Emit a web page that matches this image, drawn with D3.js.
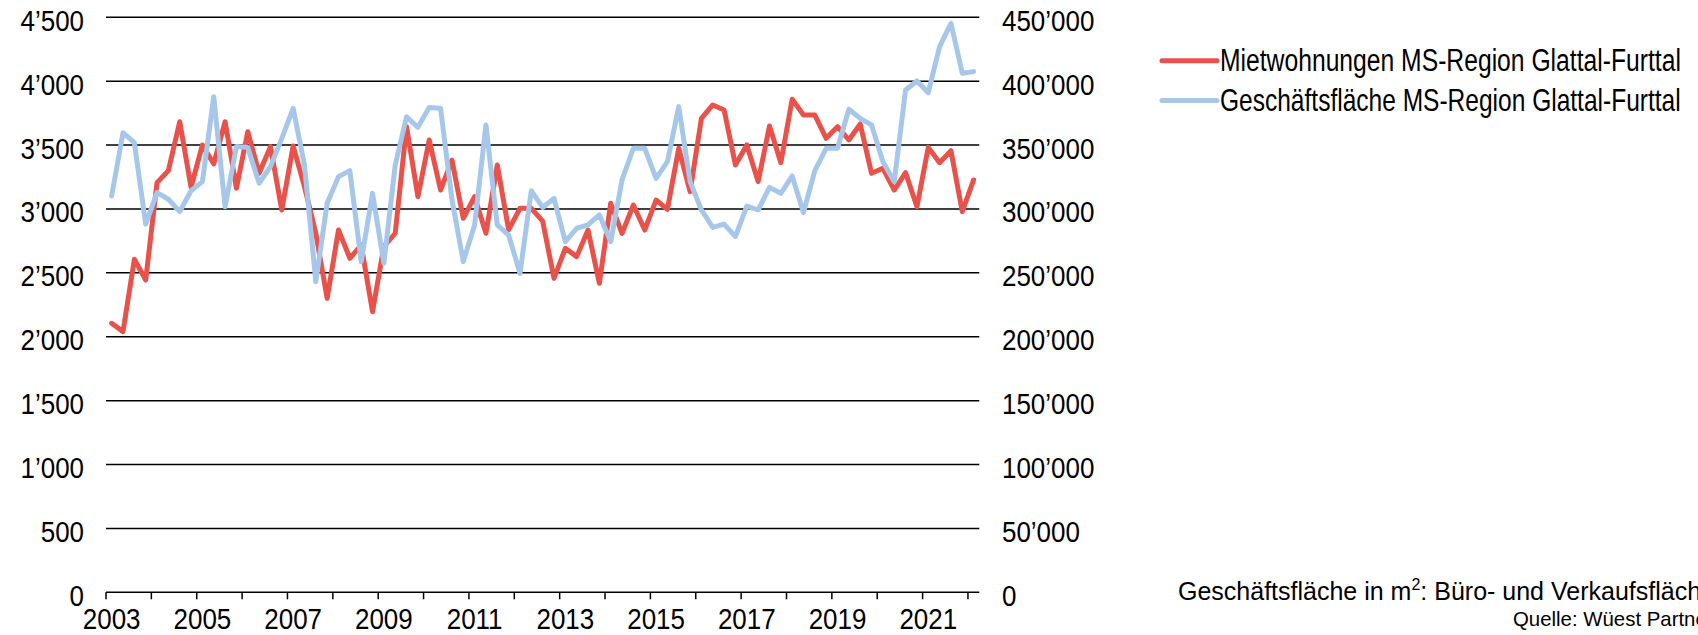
<!DOCTYPE html>
<html>
<head>
<meta charset="utf-8">
<script src="https://cdn.jsdelivr.net/npm/d3@7"></script>
<style>
  html, body { margin: 0; padding: 0; background: #fff; overflow: hidden; }
  svg { display: block; }
</style>
</head>
<body>
<svg id="chart" width="1698" height="635"></svg>
<script>
// ---------- DATA ----------
const startYear = 2003;
const quarterCount = 77; // 2003 Q1 ... 2022 Q1
const quarters = d3.range(quarterCount).map(i => startYear + (i + 0.5) / 4);

const mietwohnungen = [
  2105, 2040, 2606, 2444, 3206, 3300, 3683, 3170, 3501, 3352,
  3683, 3162, 3605, 3279, 3488, 2992, 3493, 3175, 2810, 2300,
  2836, 2614, 2718, 2196, 2705, 2810, 3644, 3096, 3540, 3148,
  3383, 2927, 3096, 2810, 3344, 2836, 3005, 3005, 2905, 2457,
  2692, 2627, 2835, 2418, 3044, 2809, 3031, 2835, 3070, 2997,
  3475, 3136, 3709, 3814, 3775, 3344, 3501, 3214, 3649, 3362,
  3858, 3735, 3735, 3553, 3644, 3540, 3665, 3279, 3318, 3148,
  3284, 3018, 3482, 3362, 3456, 2979, 3227
];

const geschaeftsflaeche = [
  310200, 359700, 351900, 288200, 312800, 307600, 297900, 314300, 321400, 387900,
  301800, 348800, 348200, 320100, 333100, 355300, 378800, 334400, 243100, 304400,
  325300, 330000, 258800, 312200, 257500, 334400, 372200, 363900, 379500, 378800,
  307600, 258800, 287500, 365700, 287500, 279600, 249600, 314300, 301200, 308300,
  274400, 284900, 287500, 295300, 274400, 322700, 347500, 347500, 324000, 337000,
  380100, 321400, 299200, 285600, 288200, 278300, 302300, 299200, 316900, 312200,
  325800, 297100, 330000, 347500, 347500, 378000, 370900, 365700, 337000, 321400,
  393100, 400200, 391000, 427000, 445300, 406200, 407500
];

const seriesNames = [
  "Mietwohnungen MS-Region Glattal-Furttal",
  "Geschäftsfläche MS-Region Glattal-Furttal"
];
const seriesColors = ["#E8524A", "#A6C7EA"];

const leftTicks = [0, 500, 1000, 1500, 2000, 2500, 3000, 3500, 4000, 4500];
const rightTicks = [0, 50000, 100000, 150000, 200000, 250000, 300000, 350000, 400000, 450000];
const yearTicks = d3.range(2003, 2023);
const yearLabels = [2003, 2005, 2007, 2009, 2011, 2013, 2015, 2017, 2019, 2021];

const footnote1a = "Geschäftsfläche in m";
const footnote1sup = "2";
const footnote1b = ": Büro- und Verkaufsfläche";
const footnote2 = "Quelle: Wüest Partner";

// ---------- LAYOUT ----------
const svg = d3.select("#chart");
const plotLeft = 106, plotRight = 979.3, plotTop = 17.3, plotBottom = 592.3;
const axFont = "'Liberation Sans', Arial, sans-serif";
const fs = 29.5;
const sx = 0.88; // horizontal condensing of the axis font

const fmt = d3.formatLocale({decimal: ".", thousands: "\u2019", grouping: [3], currency: ["", ""]}).format(",d");

const x = d3.scaleLinear().domain([2003, 2022.25]).range([plotLeft, plotRight]);
const yL = d3.scaleLinear().domain([0, 4500]).range([plotBottom, plotTop]);
const yR = d3.scaleLinear().domain([0, 450000]).range([plotBottom, plotTop]);

// gridlines
svg.append("g").selectAll("line").data(leftTicks).join("line")
  .attr("x1", plotLeft).attr("x2", plotRight)
  .attr("y1", d => yL(d)).attr("y2", d => yL(d))
  .attr("stroke", "#000").attr("stroke-width", 1.5);

// x axis ticks
svg.append("g").selectAll("line").data(yearTicks).join("line")
  .attr("x1", d => x(d)).attr("x2", d => x(d))
  .attr("y1", plotBottom).attr("y2", plotBottom + 7)
  .attr("stroke", "#000").attr("stroke-width", 1.5);

function condLabel(g, tx, ty, anchor, txt) {
  g.append("g")
    .attr("transform", `translate(${tx},${ty}) scale(${sx},1)`)
    .append("text")
    .attr("x", 0).attr("y", 0)
    .attr("text-anchor", anchor)
    .attr("font-family", axFont).attr("font-size", fs).attr("fill", "#000")
    .text(txt);
}

// left labels
const gl = svg.append("g");
leftTicks.forEach(d => condLabel(gl, 84, yL(d) + 13.5, "end", fmt(d)));

// right labels
const gr = svg.append("g");
rightTicks.forEach(d => condLabel(gr, 1002, yR(d) + 13.5, "start", fmt(d)));

// x labels
const gx = svg.append("g");
yearLabels.forEach(d => condLabel(gx, x(d + 0.125), 628.5, "middle", String(d)));

// lines
const lineL = d3.line().x((d, i) => x(quarters[i])).y(d => yL(d));
const lineR = d3.line().x((d, i) => x(quarters[i])).y(d => yR(d));

svg.append("path").datum(mietwohnungen)
  .attr("d", lineL).attr("fill", "none")
  .attr("stroke", seriesColors[0]).attr("stroke-width", 5)
  .attr("stroke-linejoin", "round").attr("stroke-linecap", "round");

svg.append("path").datum(geschaeftsflaeche)
  .attr("d", lineR).attr("fill", "none")
  .attr("stroke", seriesColors[1]).attr("stroke-width", 5)
  .attr("stroke-linejoin", "round").attr("stroke-linecap", "round");

// legend
const legend = svg.append("g");
const legendRows = [60.7, 100.5];
const legendTextWidth = 461;
seriesNames.forEach((name, k) => {
  legend.append("line")
    .attr("x1", 1162).attr("x2", 1217)
    .attr("y1", legendRows[k]).attr("y2", legendRows[k])
    .attr("stroke", seriesColors[k]).attr("stroke-width", 5).attr("stroke-linecap", "round");
  const g = legend.append("g");
  const t = g.append("text")
    .attr("x", 0).attr("y", 0)
    .attr("font-family", axFont).attr("font-size", 31).attr("fill", "#000")
    .text(name);
  const w = t.node().getComputedTextLength() || legendTextWidth;
  g.attr("transform", `translate(1220,${legendRows[k] + 10.5}) scale(${legendTextWidth / w},1)`);
});

// footnotes
const fn = svg.append("text")
  .attr("x", 1178).attr("y", 599.5)
  .attr("font-family", "'Liberation Sans', Arial, sans-serif").attr("font-size", 25).attr("fill", "#000");
fn.append("tspan").text(footnote1a);
fn.append("tspan").attr("font-size", 16).attr("dy", -10).text(footnote1sup);
fn.append("tspan").attr("dy", 10).text(footnote1b);

svg.append("text")
  .attr("x", 1513).attr("y", 626)
  .attr("font-family", "'Liberation Sans', Arial, sans-serif").attr("font-size", 20.4).attr("fill", "#000")
  .text(footnote2);
</script>
</body>
</html>
